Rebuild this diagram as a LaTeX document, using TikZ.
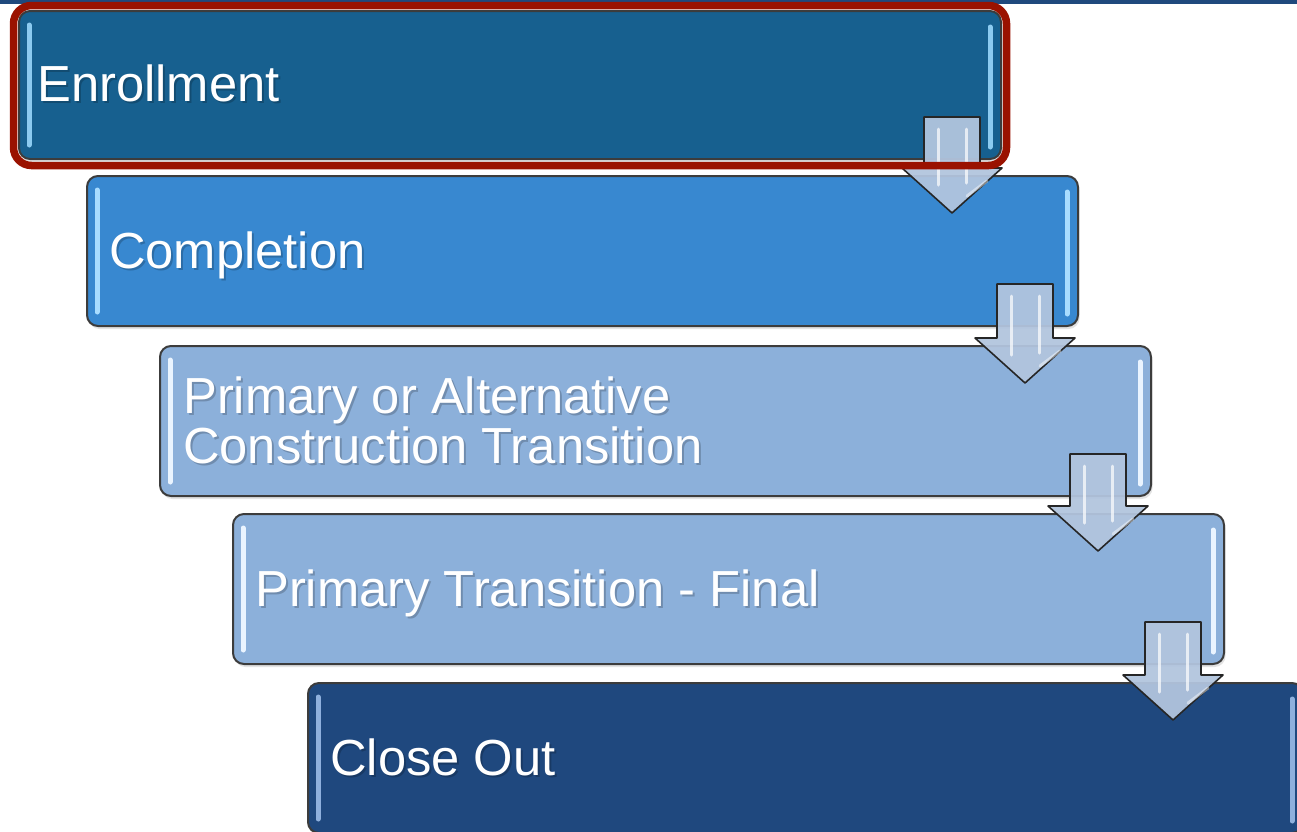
\documentclass[tikz,border=0pt]{standalone}
\usepackage{fontspec}
\setmainfont{Liberation Sans}
\usetikzlibrary{calc,shadows}

\definecolor{enrollfill}{HTML}{17608F}
\definecolor{complfill}{HTML}{3888D0}
\definecolor{lightfill}{HTML}{8CB0DA}
\definecolor{closefill}{HTML}{1F487E}
\definecolor{framered}{HTML}{9A1200}
\definecolor{barblue}{HTML}{1F497D}
\definecolor{arrowfill}{HTML}{B2C5DE}
\definecolor{edgegray}{HTML}{3C3C3C}
\definecolor{shineenroll}{HTML}{8CCBF0}
\definecolor{shinecompl}{HTML}{A8DCFF}
\definecolor{shinelight}{HTML}{EAF4FF}
\definecolor{shineclose}{HTML}{8FB0DD}

% block arrow from an upper stage down into the next one
\newcommand\stagearrow[3]{%
  \coordinate (#3tip) at ($(#2.north west)+(866,38)$);
  \coordinate (#3u) at ($(#1.south)+(0,-43)$);
  \coordinate (#3top) at (#3tip |- #3u);
  \draw[stagearrowstyle] ($(#3top)+(-28,0)$) -- ($(#3top)+(28,0)$)
    -- ($(#3tip)+(28,-45)$) -- ($(#3tip)+(50,-45)$) -- (#3tip)
    -- ($(#3tip)+(-50,-45)$) -- ($(#3tip)+(-28,-45)$) -- cycle;
  \draw[arrowshine] ($(#3top)+(-14,12)$) -- ($(#3tip)+(-14,-28)$);
  \draw[arrowshine] ($(#3top)+(14,12)$) -- ($(#3tip)+(14,-30)$);
  \draw[arrowshine, opacity=0.45] ($(#3tip)+(15,-17)$) -- ($(#3tip)+(35,-32)$);
}

\begin{document}
\begin{tikzpicture}[x=1pt,y=-1pt,
  stagebox/.style={draw=edgegray, line width=2, rounded corners=11,
    anchor=north west, inner sep=0, minimum width=991, minimum height=150,
    drop shadow={opacity=0.22, shadow xshift=1.5pt, shadow yshift=-3pt}},
  stagelabel/.style={text=white, inner sep=0, align=left,
    font=\fontsize{50.7}{50}\selectfont},
  labelshadow/.style={stagelabel, text=black, opacity=0.2},
  hlbar/.style={draw=#1, line width=5, line cap=round},
  stagearrowstyle/.style={fill=arrowfill, fill opacity=0.94, draw=black!85,
    line width=1.6, line join=round},
  arrowshine/.style={draw=white, opacity=0.7, line width=3, line cap=round},
  redframe/.style={draw=framered, line width=7.5, rounded corners=18}
]
\useasboundingbox (0,0) rectangle (1297,831);
\fill[white] (0,0) rectangle (1297,831);

% thin band along the top edge
\fill[barblue] (0,0) rectangle (1297,3.5);

% stage boxes
\node[stagebox, fill=enrollfill, minimum width=982, minimum height=148] (b1) at (18,10) {};
\node[stagebox, fill=complfill] (b2) at (86,175) {};
\node[stagebox, fill=lightfill] (b3) at (159,345) {};
\node[stagebox, fill=lightfill] (b4) at (232,513) {};
\node[stagebox, fill=closefill, minimum width=995] (b5) at (307,682) {};

% glossy side stripes
\foreach \b/\c in {b1/shineenroll, b2/shinecompl, b3/shinelight, b4/shinelight, b5/shineclose}{
  \draw[hlbar=\c] ($(\b.north west)+(11,15)$) -- ($(\b.south west)+(11,-15)$);
  \draw[hlbar=\c] ($(\b.north east)+(-12,17)$) -- ($(\b.south east)+(-12,-13)$);
}

% stage labels
\node[labelshadow, anchor=base west] at ($(b1.west)+(21,18)$) {Enrollment};
\node[stagelabel, anchor=base west] (t1) at ($(b1.west)+(19,16)$) {Enrollment};
\node[labelshadow, anchor=base west] at ($(b2.west)+(25,19)$) {Completion};
\node[stagelabel, anchor=base west] (t2) at ($(b2.west)+(23,17)$) {Completion};
\node[labelshadow, anchor=base west] at ($(b3.west)+(26,44)$) {Primary or Alternative\\Construction Transition};
\node[stagelabel, anchor=base west] (t3) at ($(b3.west)+(24,42)$) {Primary or Alternative\\Construction Transition};
\node[labelshadow, anchor=base west] at ($(b4.west)+(25,19)$) {Primary Transition - Final};
\node[stagelabel, anchor=base west] (t4) at ($(b4.west)+(23,17)$) {Primary Transition - Final};
\node[labelshadow, anchor=base west] at ($(b5.west)+(25,19)$) {Close Out};
\node[stagelabel, anchor=base west] (t5) at ($(b5.west)+(23,17)$) {Close Out};

% connecting block arrows
\stagearrow{b1}{b2}{a1}
\stagearrow{b2}{b3}{a2}
\stagearrow{b3}{b4}{a3}
\stagearrow{b4}{b5}{a4}

% highlight frame around the current stage
\draw[redframe] ($(b1.north west)+(-4.5,-4.5)$) rectangle ($(b1.south east)+(4.5,5.5)$);
\end{tikzpicture}
\end{document}
